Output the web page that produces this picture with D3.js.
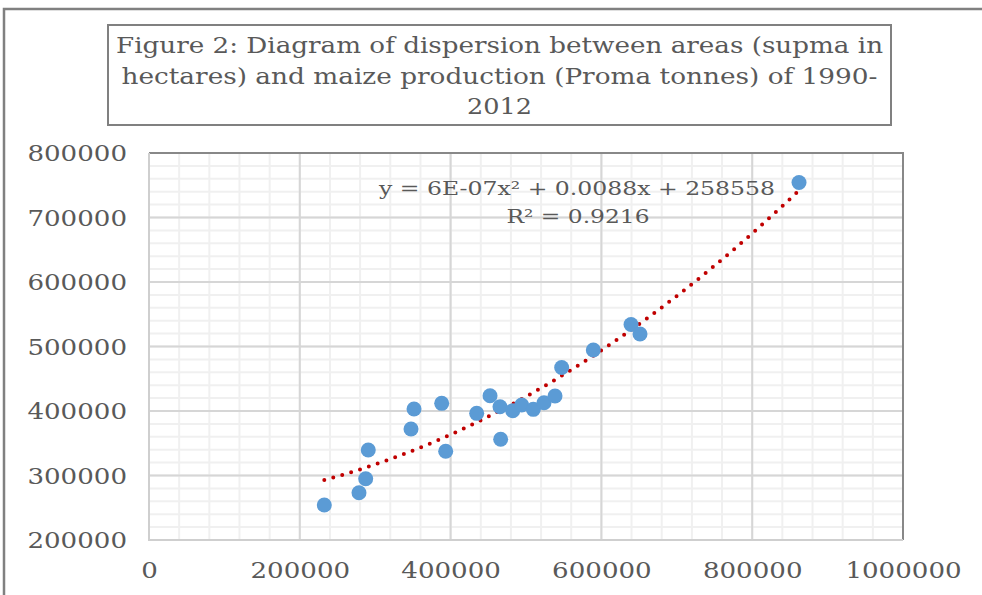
<!DOCTYPE html>
<html>
<head>
<meta charset="utf-8">
<script src="https://cdn.jsdelivr.net/npm/d3@7"></script>
<style>
  body { margin: 0; background: #fff; }
  svg { display: block; }
  text { font-family: "DejaVu Serif", serif; fill: #595959; }
</style>
</head>
<body>
<svg id="chart" width="982" height="595"></svg>
<script>
// area harvested (ha) and maize production (t), 1990-2012
const areaHa = [232500, 278500, 287400, 290800, 347500, 351500, 388200, 393500, 434600, 452300, 465500,
                466400, 482400, 494300, 509700, 523900, 538500, 547300, 589300, 639300, 651200, 862100];
const productionT = [254300, 273300, 295000, 339500, 372100, 403100, 411900, 337500, 396400, 423700, 406700,
                     356100, 400500, 409300, 402600, 412900, 423300, 467400, 494600, 534100, 519400, 754300];

const titleLines = [
  "Figure 2: Diagram of dispersion between areas (supma in",
  "hectares) and maize production (Proma tonnes) of 1990-",
  "2012"
];
const equationText = "y = 6E-07x² + 0.0088x + 258558";
const r2Text = "R² = 0.9216";

const xTicks = [0, 200000, 400000, 600000, 800000, 1000000];
const yTicks = [200000, 300000, 400000, 500000, 600000, 700000, 800000];

const svg = d3.select("#chart");
const pLeft = 149, pRight = 903, pTop = 153, pBottom = 540;

const x = d3.scaleLinear().domain([0, 1000000]).range([pLeft, pRight]);
const y = d3.scaleLinear().domain([200000, 800000]).range([pBottom, pTop]);

// outer frame (only top and left edge visible)
svg.append("path")
  .attr("d", "M4,595 L4,9 L982,9")
  .attr("fill", "none").attr("stroke", "#808080").attr("stroke-width", 2.5);

// title box
svg.append("rect")
  .attr("x", 108).attr("y", 25).attr("width", 783).attr("height", 100)
  .attr("fill", "#fff").attr("stroke", "#808080").attr("stroke-width", 2);

const titleWidths = [767, 756, 65];
titleLines.forEach((t, i) => {
  svg.append("text")
    .attr("x", 499.5).attr("y", 53 + i * 30.5)
    .attr("text-anchor", "middle")
    .attr("font-size", 23)
    .attr("textLength", titleWidths[i]).attr("lengthAdjust", "spacingAndGlyphs")
    .text(t);
});

// gridlines
const g = svg.append("g");
const xMinor = d3.range(0, 1000001, 40000);
const yMinor = d3.range(200000, 800001, 20000);

g.selectAll(".vminor").data(xMinor).enter().append("line")
  .attr("x1", d => x(d)).attr("x2", d => x(d)).attr("y1", pTop).attr("y2", pBottom)
  .attr("stroke", "#F0F0F0").attr("stroke-width", 2);
g.selectAll(".hminor").data(yMinor).enter().append("line")
  .attr("y1", d => y(d)).attr("y2", d => y(d)).attr("x1", pLeft).attr("x2", pRight)
  .attr("stroke", "#F0F0F0").attr("stroke-width", 2);
g.selectAll(".vmajor").data(xTicks).enter().append("line")
  .attr("x1", d => x(d)).attr("x2", d => x(d)).attr("y1", pTop).attr("y2", pBottom)
  .attr("stroke", "#D6D6D6").attr("stroke-width", 2);
g.selectAll(".hmajor").data(yTicks).enter().append("line")
  .attr("y1", d => y(d)).attr("y2", d => y(d)).attr("x1", pLeft).attr("x2", pRight)
  .attr("stroke", "#D6D6D6").attr("stroke-width", 2);

// plot border: dark top/right, light left/bottom
svg.append("path")
  .attr("d", `M${pLeft},${pTop} L${pRight},${pTop} L${pRight},${pBottom}`)
  .attr("fill", "none").attr("stroke", "#888").attr("stroke-width", 2);
svg.append("path")
  .attr("d", `M${pLeft},${pTop} L${pLeft},${pBottom} L${pRight},${pBottom}`)
  .attr("fill", "none").attr("stroke", "#CFCFCF").attr("stroke-width", 2);

// axes (labels only)
const fmt = d3.format("d");
const yAxis = svg.append("g")
  .attr("transform", `translate(${pLeft},0)`)
  .call(d3.axisLeft(y).tickValues(yTicks).tickFormat(fmt).tickSize(0).tickPadding(22));
const xAxis = svg.append("g")
  .attr("transform", `translate(0,${pBottom})`)
  .call(d3.axisBottom(x).tickValues(xTicks).tickFormat(fmt).tickSize(0));
[yAxis, xAxis].forEach(a => a.select(".domain").remove());

yAxis.selectAll("text")
  .attr("font-size", 22).attr("font-family", "DejaVu Serif").attr("fill", "#595959")
  .attr("dy", "0.36em")
  .attr("textLength", d => fmt(d).length * 16.6).attr("lengthAdjust", "spacingAndGlyphs");
xAxis.selectAll("text")
  .attr("font-size", 22).attr("font-family", "DejaVu Serif").attr("fill", "#595959")
  .attr("y", 38).attr("dy", 0)
  .attr("textLength", d => fmt(d).length * 16.6).attr("lengthAdjust", "spacingAndGlyphs");

// polynomial (order 2) trendline by least squares
function fitQuadratic(xs, ys) {
  const s = 1e5;
  const S = new Array(5).fill(0), T = [0, 0, 0];
  xs.forEach((xv, i) => {
    const u = xv / s;
    for (let k = 0; k < 5; k++) S[k] += Math.pow(u, k);
    for (let k = 0; k < 3; k++) T[k] += ys[i] * Math.pow(u, k);
  });
  const A = [[S[0], S[1], S[2], T[0]], [S[1], S[2], S[3], T[1]], [S[2], S[3], S[4], T[2]]];
  for (let c = 0; c < 3; c++) {
    for (let r = c + 1; r < 3; r++) {
      const f = A[r][c] / A[c][c];
      for (let k = c; k < 4; k++) A[r][k] -= f * A[c][k];
    }
  }
  const b = [0, 0, 0];
  for (let r = 2; r >= 0; r--) {
    let v = A[r][3];
    for (let k = r + 1; k < 3; k++) v -= A[r][k] * b[k];
    b[r] = v / A[r][r];
  }
  return xv => { const u = xv / s; return b[0] + b[1] * u + b[2] * u * u; };
}
const trend = fitQuadratic(areaHa, productionT);
const xMin = d3.min(areaHa), xMax = d3.max(areaHa);
const trendXs = d3.range(0, 101).map(i => xMin + (xMax - xMin) * i / 100);

svg.append("path")
  .datum(trendXs)
  .attr("d", d3.line().x(d => x(d)).y(d => y(trend(d))))
  .attr("fill", "none")
  .attr("stroke", "#C00000")
  .attr("stroke-width", 4)
  .attr("stroke-linecap", "round")
  .attr("stroke-dasharray", "0,9.3");

// points
svg.append("g").selectAll("circle")
  .data(areaHa.map((a, i) => [a, productionT[i]]))
  .enter().append("circle")
  .attr("cx", d => x(d[0]))
  .attr("cy", d => y(d[1]))
  .attr("r", 7.5)
  .attr("fill", "#5B9BD5");

// equation label
svg.append("text")
  .attr("x", 577).attr("y", 195).attr("text-anchor", "middle")
  .attr("font-size", 18.5)
  .attr("textLength", 396).attr("lengthAdjust", "spacingAndGlyphs")
  .text(equationText);
svg.append("text")
  .attr("x", 578).attr("y", 222.5).attr("text-anchor", "middle")
  .attr("font-size", 18.5)
  .attr("textLength", 143).attr("lengthAdjust", "spacingAndGlyphs")
  .text(r2Text);
</script>
</body>
</html>
